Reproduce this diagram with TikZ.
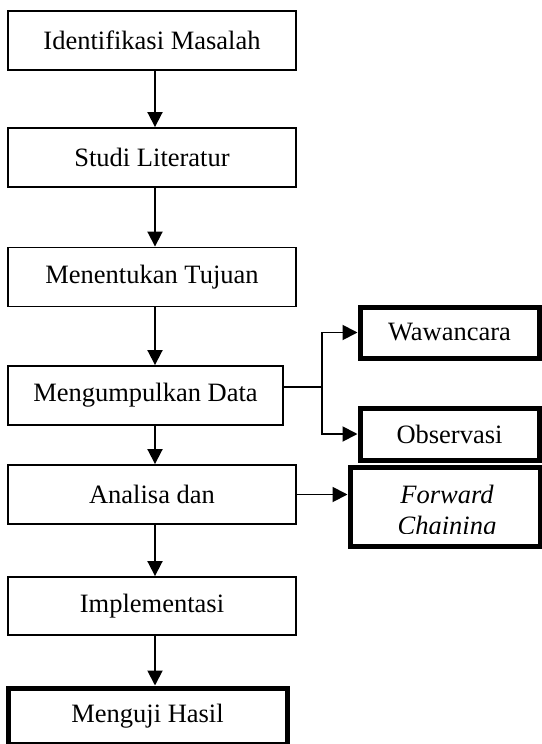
\documentclass[tikz,border=0pt]{standalone}
\usepackage{fontspec}
\setmainfont{Liberation Serif}
\usetikzlibrary{positioning,arrows.meta}
\tikzset{
  stepbox/.style  = {draw, line width=1.9pt, minimum width=288pt, minimum height=59pt,
                     inner sep=0pt, font=\fontsize{26.5}{31}\selectfont},
  sidebox/.style  = {draw, line width=5pt, minimum width=179pt, minimum height=51pt,
                     inner sep=0pt, font=\fontsize{26.5}{31}\selectfont},
  arrow/.style    = {-{Triangle[length=15pt,width=15pt]}, line width=1.9pt},
}
\begin{document}
\begin{tikzpicture}[x=1pt, y=-1pt]
  \useasboundingbox (0,0) rectangle (541,744);
  % main column
  \node[stepbox] (ident) at (152,40.5) {Identifikasi Masalah};
  \node[stepbox] (studi) at (152,157.5) {Studi Literatur};
  \node[stepbox] (tujuan) at (152,277) {Menentukan Tujuan};
  \node[stepbox, minimum width=275pt] (data) at (145.5,395.5) {Mengumpulkan Data};
  \node[stepbox] (analisa) at (152,494.5) {Analisa dan};
  \node[stepbox, minimum height=58pt] (impl) at (152,606) {Implementasi};
  \node[sidebox, minimum width=279pt, minimum height=56pt] (uji) at (147.5,716) {Menguji Hasil};
  % side boxes
  \node[sidebox] (waw) at (449.5,332.5) {Wawancara};
  \node[sidebox, minimum height=52pt] (obs) at (449.5,434) {Observasi};
  \node[sidebox, minimum width=190pt, minimum height=79pt] (fc) at (445,506.5) {};
  \begin{scope}
    \clip (fc.north west) rectangle (fc.east |- 0,533.5);
    \node[font=\fontsize{26.5}{31}\selectfont\itshape, align=center] (fctxt) at (447,513) {Forward\\Chaining};
  \end{scope}
  \coordinate (split) at (322,387);
  % connectors
  \draw[arrow] ([xshift=3pt]ident.south) -- ([xshift=3pt]studi.north);
  \draw[arrow] ([xshift=3pt]studi.south) -- ([xshift=3pt]tujuan.north);
  \draw[arrow] ([xshift=3pt]tujuan.south) -- ([xshift=3pt]tujuan.south |- data.north);
  \draw[arrow] ([xshift=3pt]analisa.north |- data.south) -- ([xshift=3pt]analisa.north);
  \draw[arrow] ([xshift=3pt]analisa.south) -- ([xshift=3pt]impl.north);
  \draw[arrow] ([xshift=3pt]impl.south) -- ([xshift=3pt]impl.south |- uji.north);
  \draw[line width=1.9pt] (data.east |- split) -- (split);
  \draw[arrow] (split) |- (waw.west);
  \draw[arrow] (split) |- (obs.west);
  \draw[arrow] (analisa.east) -- (analisa.east -| fc.west);
\end{tikzpicture}
\end{document}
